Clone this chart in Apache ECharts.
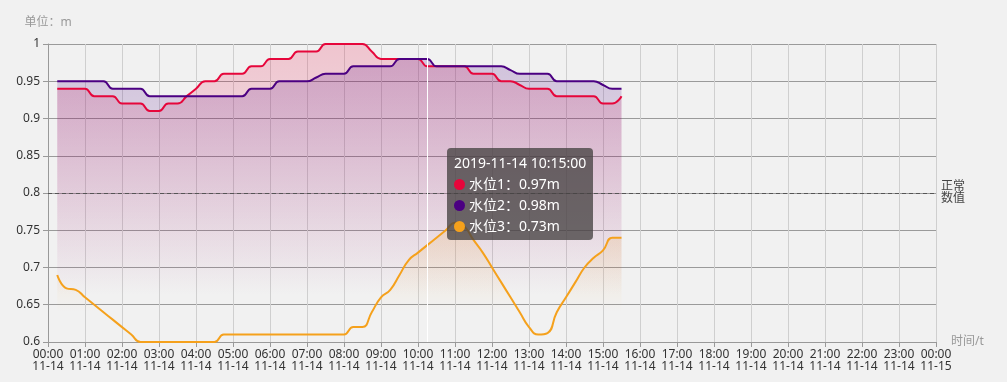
<!DOCTYPE html>
<html>
<head>
<meta charset="utf-8">
<script src="https://cdn.jsdelivr.net/npm/echarts@6/dist/echarts.min.js"></script>
<style>
html,body{margin:0;padding:0;background:#f1f1f1;}
#chart{width:1007px;height:382px;}
</style>
</head>
<body>
<div id="chart"></div>
<script>
var day = '2019-11-14';
var axisStart = '2019-11-14 00:00:00';
var axisEnd = '2019-11-15 00:00:00';
var times = ['00:15','00:30','00:45','01:00','01:15','01:30','01:45','02:00','02:15','02:30','02:45','03:00',
  '03:15','03:30','03:45','04:00','04:15','04:30','04:45','05:00','05:15','05:30','05:45','06:00',
  '06:15','06:30','06:45','07:00','07:15','07:30','07:45','08:00','08:15','08:30','08:45','09:00',
  '09:15','09:30','09:45','10:00','10:15','10:30','10:45','11:00','11:15','11:30','11:45','12:00',
  '12:15','12:30','12:45','13:00','13:15','13:30','13:45','14:00','14:15','14:30','14:45','15:00',
  '15:15','15:30'];
var seriesNames = ['水位1','水位2','水位3'];
var level1 = [0.94,0.94,0.94,0.94,0.93,0.93,0.93,0.92,0.92,0.92,0.91,0.91,
  0.92,0.92,0.93,0.94,0.95,0.95,0.96,0.96,0.96,0.97,0.97,0.98,
  0.98,0.98,0.99,0.99,0.99,1.00,1.00,1.00,1.00,1.00,0.99,0.98,
  0.98,0.98,0.98,0.98,0.97,0.97,0.97,0.97,0.97,0.96,0.96,0.96,
  0.95,0.95,0.945,0.94,0.94,0.94,0.93,0.93,0.93,0.93,0.93,0.92,
  0.92,0.93];
var level2 = [0.95,0.95,0.95,0.95,0.95,0.95,0.94,0.94,0.94,0.94,0.93,0.93,
  0.93,0.93,0.93,0.93,0.93,0.93,0.93,0.93,0.93,0.94,0.94,0.94,
  0.95,0.95,0.95,0.95,0.955,0.96,0.96,0.96,0.97,0.97,0.97,0.97,
  0.97,0.98,0.98,0.98,0.98,0.97,0.97,0.97,0.97,0.97,0.97,0.97,
  0.97,0.965,0.96,0.96,0.96,0.96,0.95,0.95,0.95,0.95,0.95,0.945,
  0.94,0.94];
var level3 = [0.69,0.672,0.67,0.66,0.65,0.64,0.63,0.62,0.61,0.60,0.60,0.60,
  0.60,0.60,0.60,0.60,0.60,0.60,0.61,0.61,0.61,0.61,0.61,0.61,
  0.61,0.61,0.61,0.61,0.61,0.61,0.61,0.61,0.62,0.62,0.64,0.66,
  0.67,0.69,0.71,0.72,0.73,0.74,0.75,0.76,0.755,0.737,0.72,0.70,
  0.68,0.66,0.64,0.62,0.61,0.612,0.64,0.66,0.68,0.70,0.713,0.723,
  0.74,0.74];
var normalLevel = 0.8;
var tipTime = '10:15';
var yTicks = {min:0.6, max:1, step:0.05};
var colors = ['#e6063b','#4b0082','#f5a11c'];

function pad(n){return (n<10?'0':'')+n;}
function toTs(t){return new Date((day+'T'+t+':00')).getTime();}
function build(vals){return times.map(function(t,i){return [toTs(t), vals[i]];});}
function grad(c, a, end){
  return new echarts.graphic.LinearGradient(0,0,0,1,[
    {offset:0,color:hexA(c,a)},{offset:end,color:hexA(c,0)},{offset:1,color:hexA(c,0)}]);
}
function hexA(h,a){
  var r=parseInt(h.substr(1,2),16),g=parseInt(h.substr(3,2),16),b=parseInt(h.substr(5,2),16);
  return 'rgba('+r+','+g+','+b+','+a+')';
}
var levels=[level1,level2,level3];
var alphas=[0.27,0.28,0.24];
var fadeEnd=[0.84,0.84,0.75];
var font = "'Microsoft YaHei','Noto Sans','Noto Sans CJK SC',sans-serif";

var chart = echarts.init(document.getElementById('chart'), null, {renderer:'canvas'});
var series = seriesNames.map(function(n,i){
  var s = {
    name:n, type:'line', smooth:true, showSymbol:false, symbol:'none', animation:false,
    data:build(levels[i]),
    itemStyle:{color:colors[i]},
    lineStyle:{color:colors[i], width:2},
    emphasis:{disabled:true},
    areaStyle:{color:grad(colors[i], alphas[i], fadeEnd[i])}
  };
  if(i===0){
    s.markLine = {
      silent:true, symbol:['none','none'], animation:false,
      data:[{yAxis:normalLevel}],
      lineStyle:{type:[4,3], color:'#555', width:1},
      label:{position:'end', formatter:'正常\n数值', color:'#444', fontSize:12, lineHeight:12, fontFamily:font}
    };
  }
  return s;
});

chart.setOption({
  backgroundColor:'#f1f1f1',
  textStyle:{fontFamily:font},
  animation:false,
  grid:{left:48,right:71,top:44,bottom:40,containLabel:false},
  tooltip:{
    trigger:'axis', triggerOn:'none', alwaysShowContent:true, transitionDuration:0,
    backgroundColor:'rgba(70,66,66,0.78)', borderWidth:0, borderRadius:4, padding:[4,7],
    textStyle:{color:'#fff', fontSize:14, fontFamily:font},
    extraCssText:'box-shadow:none;line-height:21px;',
    axisPointer:{type:'line', lineStyle:{color:'#ffffff', width:1, type:'solid'}},
    position:function(pt){return [pt[0]+20, 148];},
    formatter:function(params){
      var d=new Date(params[0].value[0]);
      var title=d.getFullYear()+'-'+pad(d.getMonth()+1)+'-'+pad(d.getDate())+' '+pad(d.getHours())+':'+pad(d.getMinutes())+':'+pad(d.getSeconds());
      var rows=params.map(function(p){
        return '<span style="display:inline-block;margin-right:4px;border-radius:6px;width:11px;height:11px;vertical-align:-1px;background-color:'+colors[p.seriesIndex]+';"></span>'+p.seriesName+'：'+p.value[1].toFixed(2)+'m';
      });
      return '<div style="font-size:14px;color:#fff;line-height:21px;">'+title+'<br/>'+rows.join('<br/>')+'</div>';
    }
  },
  xAxis:{
    type:'time',
    min:new Date(axisStart.replace(' ','T')).getTime(),
    max:new Date(axisEnd.replace(' ','T')).getTime(),
    minInterval:3600*1000, maxInterval:3600*1000, interval:3600*1000,
    name:'时间/t', nameGap:15, nameTextStyle:{color:'#999', fontSize:12},
    axisLine:{show:true, lineStyle:{color:'#999'}},
    axisTick:{show:true, length:5, lineStyle:{color:'#999'}},
    splitLine:{show:true, lineStyle:{color:'#cfcfcf', width:1}},
    axisLabel:{
      color:'#333', fontSize:12, lineHeight:12, margin:7, interval:0, hideOverlap:false,
      showMinLabel:true, showMaxLabel:true,
      formatter:function(v){var d=new Date(v);return pad(d.getHours())+':'+pad(d.getMinutes())+'\n'+pad(d.getMonth()+1)+'-'+pad(d.getDate());}
    }
  },
  yAxis:{
    type:'value', min:yTicks.min, max:yTicks.max, interval:yTicks.step,
    name:'单位：m', nameGap:15, nameTextStyle:{color:'#999', fontSize:12, align:'center'},
    axisLine:{show:true, lineStyle:{color:'#999'}},
    axisTick:{show:true, length:5, lineStyle:{color:'#999'}},
    splitLine:{show:true, lineStyle:{color:'#9a9a9a', width:1}},
    axisLabel:{color:'#333', fontSize:12, margin:8,
      formatter:function(v){return String(Math.round(v*100)/100);}}
  },
  series:series
});
chart.dispatchAction({type:'showTip', seriesIndex:0, dataIndex:times.indexOf(tipTime)});
</script>
</body>
</html>
